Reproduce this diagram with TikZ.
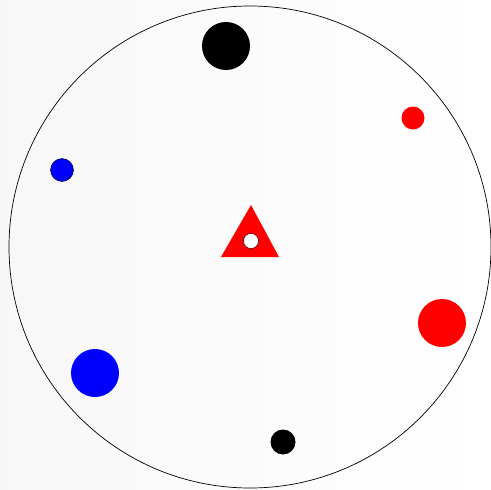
\documentclass[tikz,border=0pt]{standalone}
\usepackage{tikz}
\usetikzlibrary{calc,positioning}

\begin{document}
\begin{tikzpicture}[x=1pt,y=-1pt]
        \def\R{241}
        \useasboundingbox (0,0) rectangle (491,490);
        \coordinate (o) at (250,247);
        \coordinate (b1) at (226,46);
        \coordinate (r1) at (413,118);
        \coordinate (u1) at (62,170);
        \coordinate (r2) at (442,323);
        \coordinate (u2) at (95,373);
        \coordinate (b2) at (283,442);
        \coordinate (t1) at (251,205);
        \coordinate (t2) at (221,257);
        \coordinate (t3) at (279,257);
        \coordinate (h) at (251,241);
        %Shade
        \shade[left color=gray!6, right color=white] (0,0) rectangle (491,490);
        %Ring
        \draw[line width=0.7pt] (o) circle(\R);
        %Draw dots
        \fill[black] (b1) circle(24);
        \fill[red] (r1) circle(11.5);
        \filldraw[fill=blue, draw=black, thin] (u1) circle(11.5);
        \fill[red] (r2) circle(24);
        \fill[blue] (u2) circle(24);
        \fill[black] (b2) circle(12.5);
        %Triangle
        \fill[red] (t1) -- (t2) -- (t3) -- cycle;
        \filldraw[fill=white, draw=black, thin] (h) circle(7.5);
      \end{tikzpicture}
\end{document}
